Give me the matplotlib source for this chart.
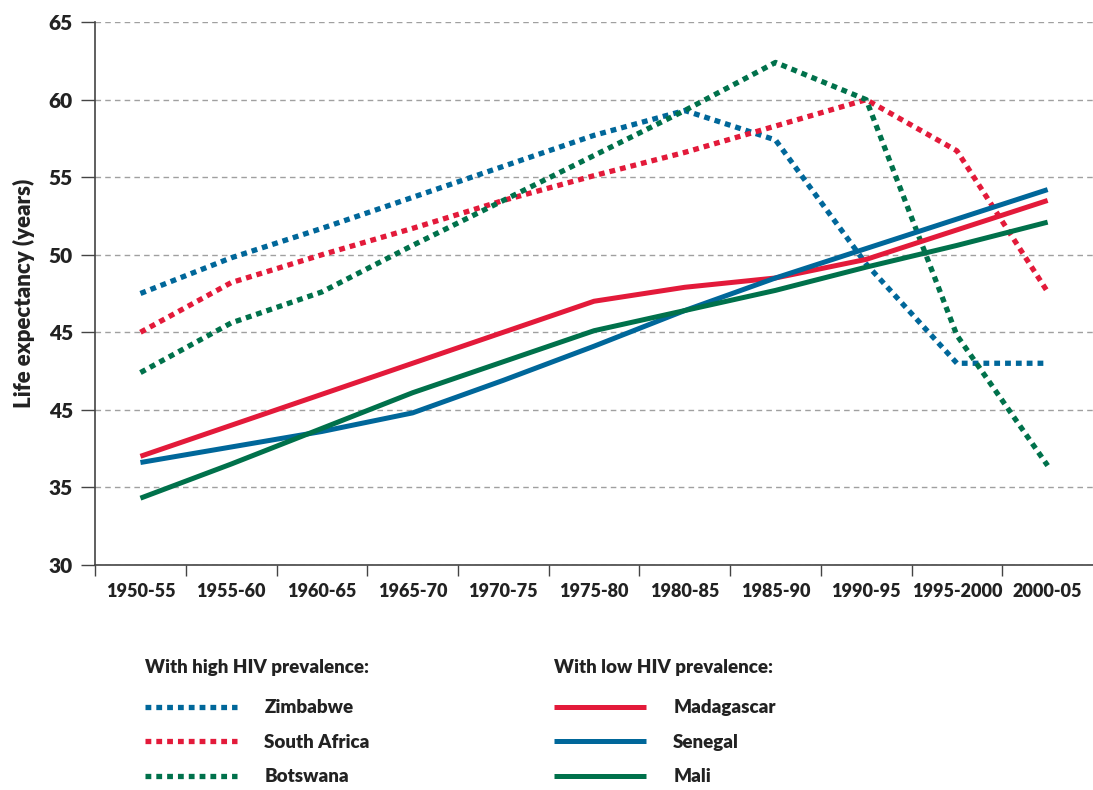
import matplotlib.pyplot as plt

periods = ["1950-55", "1955-60", "1960-65", "1965-70", "1970-75", "1975-80",
           "1980-85", "1985-90", "1990-95", "1995-2000", "2000-05"]

# high HIV prevalence
zimbabwe = [47.5, 49.8, 51.7, 53.7, 55.7, 57.7, 59.3, 57.4, 49.4, 43.0, 43.0]
south_africa = [45.0, 48.2, 50.0, 51.7, 53.5, 55.1, 56.6, 58.3, 60.0, 56.7, 47.6]
botswana = [42.4, 45.6, 47.6, 50.6, 53.5, 56.4, 59.3, 62.4, 60.0, 44.8, 36.4]

# low HIV prevalence
madagascar = [37.0, 39.0, 41.0, 43.0, 45.0, 47.0, 47.9, 48.5, 49.7, 51.6, 53.5]
senegal = [36.6, 37.6, 38.6, 39.8, 41.9, 44.1, 46.4, 48.5, 50.4, 52.3, 54.2]
mali = [34.3, 36.5, 38.8, 41.1, 43.1, 45.1, 46.4, 47.7, 49.2, 50.6, 52.1]

yticks = [30, 35, 40, 45, 50, 55, 60, 65]
ytick_labels = ["30", "35", "45", "45", "50", "55", "60", "65"]

blue = "#00679a"
red = "#e31a3a"
green = "#00714b"

plt.rcParams['font.family'] = ['Lato', 'DejaVu Sans']

fig = plt.figure(figsize=(10.93, 7.90), dpi=100)
ax = fig.add_axes([0.087, 0.285, 0.913, 0.687])

x = list(range(len(periods)))
dot = dict(lw=3.8, linestyle=(0, (1.1, 0.95)), dash_capstyle='butt')
solid = dict(lw=3.6, solid_capstyle='butt')

zw, = ax.plot(x, zimbabwe, color=blue, label="Zimbabwe", **dot)
sa, = ax.plot(x, south_africa, color=red, label="South Africa", **dot)
bw, = ax.plot(x, botswana, color=green, label="Botswana", **dot)
mg, = ax.plot(x, madagascar, color=red, label="Madagascar", **solid)
sn, = ax.plot(x, senegal, color=blue, label="Senegal", **solid)
ml, = ax.plot(x, mali, color=green, label="Mali", **solid)

ax.set_xlim(-0.5, len(periods) - 0.5)
ax.set_ylim(30, 65)
ax.set_yticks(yticks)
ax.set_yticklabels(ytick_labels, fontsize=15, fontweight='heavy', color='#222222')
ax.set_xticks(x)
ax.set_xticklabels(periods, fontsize=13, fontweight='heavy', color='#222222')
ax.tick_params(axis='x', length=0, pad=13)
ax.set_xticks([i - 0.5 for i in range(len(periods))], minor=True)
ax.tick_params(axis='x', which='minor', length=8, width=1, color='#444444')
ax.tick_params(axis='y', length=10, width=1, color='#444444', pad=6)

for s in ['top', 'right']:
    ax.spines[s].set_visible(False)
for s in ['left', 'bottom']:
    ax.spines[s].set_color('#444444')
    ax.spines[s].set_linewidth(1.2)

ax.yaxis.grid(True, linestyle=(0, (4, 3)), color='#a0a0a0', lw=1)
ax.set_axisbelow(True)
ax.set_ylabel("Life expectancy (years)", fontsize=16, fontweight='heavy',
              color='#222222', labelpad=10)

leg_kw = dict(frameon=False, loc='upper left', bbox_transform=fig.transFigure,
              prop={'weight': 'heavy', 'size': 13.5},
              title_fontproperties={'weight': 'heavy', 'size': 13.5},
              alignment='left', handlelength=4.9, handletextpad=1.45,
              labelspacing=0.93, borderpad=0, borderaxespad=0)
leg1 = ax.legend(handles=[zw, sa, bw], title="With high HIV prevalence:",
                 bbox_to_anchor=(0.133, 0.166), **leg_kw)
ax.add_artist(leg1)
leg2 = ax.legend(handles=[mg, sn, ml], title="With low HIV prevalence:",
                 bbox_to_anchor=(0.507, 0.166), **leg_kw)
for lg in (leg1, leg2):
    lg._legend_box.sep = 17
    for t in lg.get_texts():
        t.set_color('#222222')
    lg.get_title().set_color('#222222')

fig.savefig("out.png", dpi=100)
